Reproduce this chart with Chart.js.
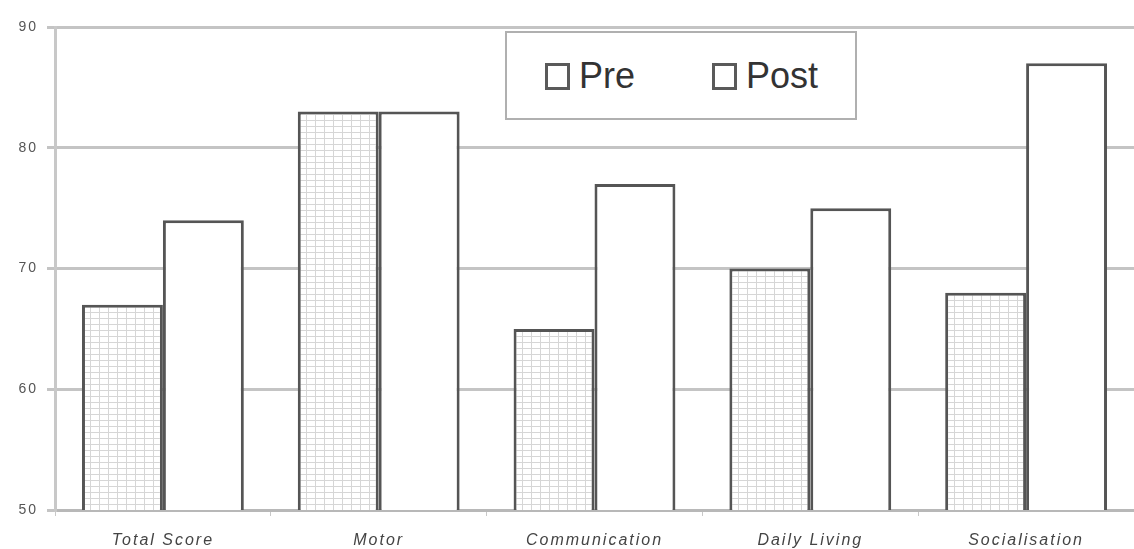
<!DOCTYPE html>
<html>
<head>
<meta charset="utf-8">
<script src="https://cdn.jsdelivr.net/npm/chart.js@4"></script>
<style>
  html, body { margin: 0; padding: 0; background: #fff; }
  #wrap { position: relative; width: 1134px; height: 549px; }
  #legend {
    position: absolute; left: 505px; top: 31px; width: 348px; height: 85px;
    border: 2px solid #b0b0b0; background: #fff;
    font-family: "Liberation Sans", Arial, sans-serif; font-size: 36px; color: #333;
  }
  .item { position: absolute; top: 23px; height: 40px; display: flex; align-items: center; }
  .sw { width: 19px; height: 21px; border: 3px solid #5a5a5a; margin-right: 9px; background: #fff; }
</style>
</head>
<body>
<div id="wrap">
  <canvas id="myChart" width="1134" height="549"></canvas>
  <div id="legend">
    <div class="item" style="left:38px"><span class="sw"></span>Pre</div>
    <div class="item" style="left:205px"><span class="sw"></span>Post</div>
  </div>
</div>
<script>
const categorias = ['Total Score', 'Motor', 'Communication', 'Daily Living', 'Socialisation'];
const valoresPre = [67, 83, 65, 70, 68];
const valoresPost = [74, 83, 77, 75, 87];
const ticksY = [50, 60, 70, 80, 90];

// patron cuadriculado para la serie Pre
let crearPatron = () => {
  const c = document.createElement('canvas');
  c.width = 9; c.height = 6;
  const ctx = c.getContext('2d');
  ctx.fillStyle = '#ffffff';
  ctx.fillRect(0, 0, 9, 6);
  ctx.fillStyle = '#d6d6d6';
  ctx.fillRect(0, 0, 9, 1);
  ctx.fillRect(0, 0, 1, 6);
  return ctx.createPattern(c, 'repeat');
};

// el texto original viene estirado a lo ancho
const espaciado = {
  id: 'espaciado',
  beforeDraw: (chart) => { chart.ctx.letterSpacing = '2px'; },
};

const myChart = document.getElementById('myChart');

new Chart(myChart, {
  type: 'bar',
  data: {
    labels: categorias,
    datasets: [
      { label: 'Pre', data: valoresPre, backgroundColor: crearPatron(), borderColor: '#555', borderWidth: 3, borderSkipped: false },
      { label: 'Post', data: valoresPost, backgroundColor: '#ffffff', borderColor: '#555', borderWidth: 3, borderSkipped: false },
    ],
  },
  plugins: [espaciado],
  options: {
    responsive: false,
    animation: false,
    layout: { padding: { top: 27, right: 0, bottom: 0, left: 0 } },
    plugins: { legend: { display: false }, tooltip: { enabled: false } },
    datasets: { bar: { barPercentage: 1, categoryPercentage: 0.75 } },
    scales: {
      x: {
        afterFit: (axis) => { axis.height = 39; },
        grid: { display: true, drawOnChartArea: false, color: '#c8c8c8', tickLength: 6, offset: true },
        border: { color: '#b8b8b8', width: 3 },
        ticks: { color: '#444', padding: 15, font: { family: 'Liberation Sans', size: 16, style: 'italic' } },
      },
      y: {
        min: 50, max: 90,
        afterBuildTicks: (axis) => { axis.ticks = ticksY.map((v) => ({ value: v })); },
        afterFit: (axis) => { axis.width = 55; },
        grid: { color: '#c4c4c4', lineWidth: 3, tickLength: 8 },
        border: { color: '#c8c8c8', width: 3 },
        ticks: { color: '#555', padding: 9, font: { family: 'Liberation Sans', size: 14 } },
      },
    },
  },
});
</script>
</body>
</html>
